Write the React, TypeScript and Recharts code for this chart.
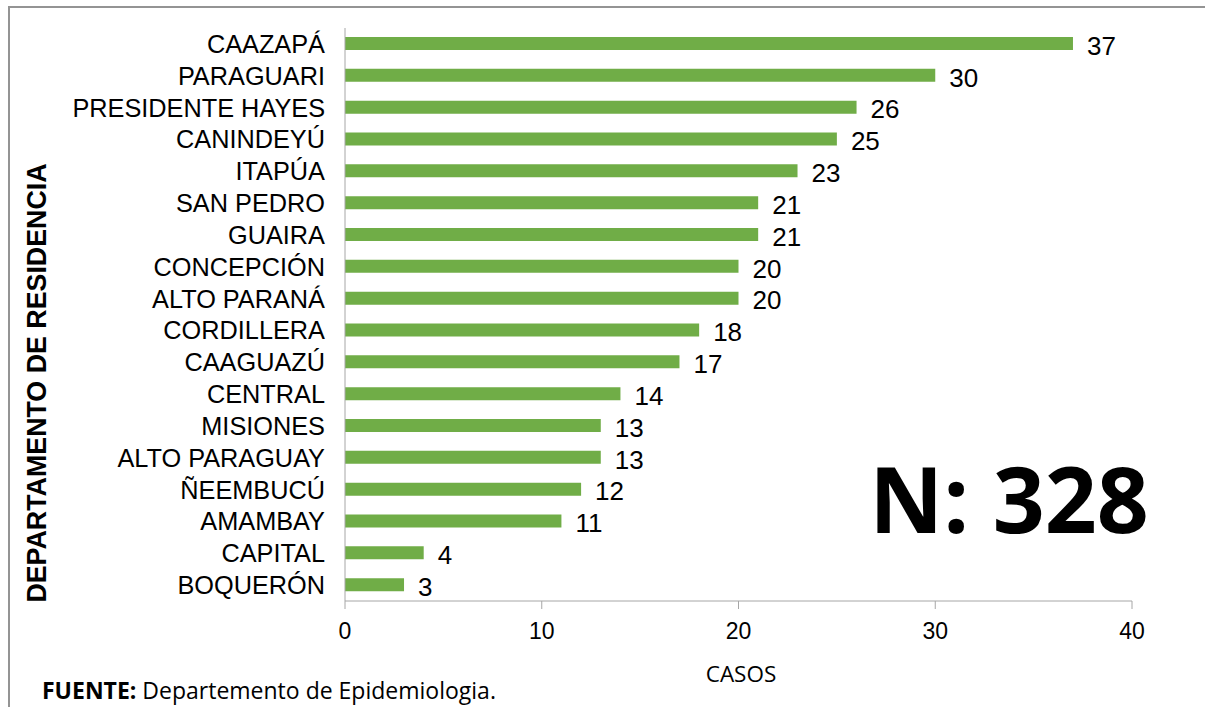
import { BarChart, Bar, XAxis, YAxis, LabelList } from "recharts";

const departamentos = [
	"CAAZAPÁ", "PARAGUARI", "PRESIDENTE HAYES", "CANINDEYÚ", "ITAPÚA", "SAN PEDRO",
	"GUAIRA", "CONCEPCIÓN", "ALTO PARANÁ", "CORDILLERA", "CAAGUAZÚ", "CENTRAL",
	"MISIONES", "ALTO PARAGUAY", "ÑEEMBUCÚ", "AMAMBAY", "CAPITAL", "BOQUERÓN",
];
const casos = [37, 30, 26, 25, 23, 21, 21, 20, 20, 18, 17, 14, 13, 13, 12, 11, 4, 3];
const xTicks = [0, 10, 20, 30, 40];

const rows = departamentos.map((d, i) => ({ dep: d, casos: casos[i] }));

const arial = "'Liberation Sans', Arial, sans-serif";
const calibri = "'Open Sans', sans-serif";
const axisGray = "#a6a6a6";

export default function App() {
	return (
		<div style={{ position: "absolute", left: 0, top: 0, width: 1205, height: 707, background: "#fff", overflow: "hidden" }}>
			{/* frame */}
			<div style={{ position: "absolute", left: 8, top: 6, width: 1300, height: 800, borderTop: "2px solid #949494", borderLeft: "2px solid #949494" }} />

			<BarChart
				width={1205}
				height={707}
				data={rows}
				layout="vertical"
				margin={{ top: 28, right: 73, bottom: 66, left: 45 }}
				barCategoryGap={0}
			>
				<XAxis
					type="number"
					domain={[0, 40]}
					ticks={xTicks}
					height={40}
					stroke={axisGray}
					tickSize={8}
					tickMargin={14}
					tick={{ fontSize: 23, fill: "#000", fontFamily: arial }}
				/>
				<YAxis
					type="category"
					dataKey="dep"
					width={300}
					stroke={axisGray}
					tickLine={false}
					tickSize={0}
					tickMargin={20}
					interval={0}
					tick={{ fontSize: 25.3, fill: "#000", fontFamily: arial }}
				/>
				<Bar dataKey="casos" fill="#70ad47" barSize={13} isAnimationActive={false}>
					<LabelList dataKey="casos" position="right" offset={14} dy={2} style={{ fontSize: 26, fill: "#000", fontFamily: arial }} />
				</Bar>
			</BarChart>

			{/* y axis title */}
			<div style={{ position: "absolute", left: 37, top: 383, transform: "translate(-50%, -50%) rotate(-90deg)", whiteSpace: "nowrap", fontFamily: arial, fontWeight: 700, fontSize: 26.8, color: "#000" }}>
				DEPARTAMENTO DE RESIDENCIA
			</div>

			{/* x axis title */}
			<div style={{ position: "absolute", left: 741, top: 673, transform: "translate(-50%, -50%)", fontFamily: calibri, fontSize: 22.5, color: "#000" }}>
				CASOS
			</div>

			{/* total */}
			<div style={{ position: "absolute", left: 1009, top: 498, transform: "translate(-50%, -50%)", fontFamily: calibri, fontWeight: 700, fontSize: 91, color: "#000", whiteSpace: "nowrap" }}>
				N: 328
			</div>

			{/* source */}
			<div style={{ position: "absolute", left: 42, top: 690, transform: "translateY(-50%)", fontFamily: calibri, fontSize: 23, color: "#000", whiteSpace: "nowrap" }}>
				<b>FUENTE:</b> Departemento de Epidemiologia.
			</div>
		</div>
	);
}
